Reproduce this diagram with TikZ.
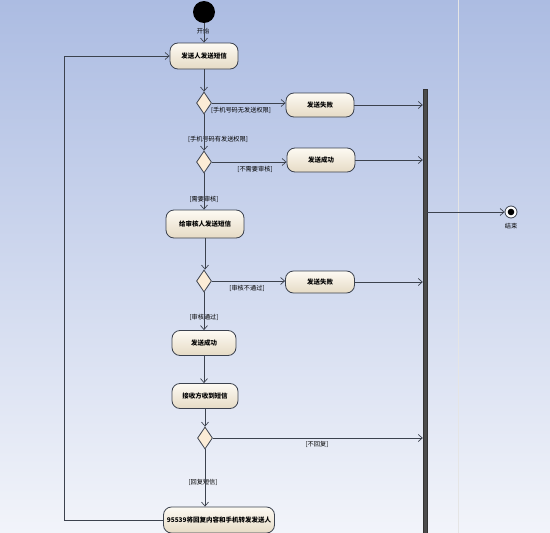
\documentclass[tikz,border=0pt]{standalone}
\usepackage{fontspec}
\newfontfamily\cjk{Noto Sans CJK SC}
\usetikzlibrary{shapes.geometric,arrows.meta}
\definecolor{bgtop}{RGB}{172,188,226}
\definecolor{bgbot}{RGB}{242,244,250}
\definecolor{acttop}{RGB}{253,250,243}
\definecolor{actbot}{RGB}{230,219,197}
\definecolor{decfill}{RGB}{252,236,214}
\definecolor{edge}{RGB}{60,66,78}

\begin{document}
\begin{tikzpicture}[x=1pt,y=-1pt,
  act/.style = {draw=edge,line width=0.8pt,rounded corners=8pt,top color=acttop,bottom color=actbot,
    minimum height=26pt,inner xsep=4pt,font=\cjk\bfseries\fontsize{6.5}{7}\selectfont},
  dec/.style = {draw=edge,line width=0.8pt,diamond,fill=decfill,inner sep=0pt,minimum width=15pt,minimum height=22pt},
  lbl/.style = {inner sep=1pt,text=black,font=\cjk\fontsize{6.2}{7}\selectfont},
  flow/.style = {draw=edge,line width=0.7pt,-{Straight Barb[length=4pt,width=7pt]}}]
% background and lane divider
\shade[top color=bgtop,bottom color=bgbot] (0,0) rectangle (550,533);
\useasboundingbox (0,0) rectangle (550,533);
\draw[white!80!gray,line width=1pt] (458,0) -- (458,533);

\node[circle,fill=black,minimum size=22pt,inner sep=0pt] (start) at (204,12) {};
\node[lbl] (startl) at (203,31) {开始};
\node[act,minimum width=68pt] (a1) at (204,56) {发送人发送短信};
\node[dec] (d1) at (204,103) {};
\node[act,minimum width=68pt,minimum height=24pt] (f1) at (320,105) {发送失败};
\node[dec] (d2) at (204,162) {};
\node[act,minimum width=68pt,minimum height=24pt] (s1) at (321,160) {发送成功};
\node[act,minimum width=78pt,minimum height=28pt] (a2) at (205,224) {给审核人发送短信};
\node[dec] (d3) at (204,281) {};
\node[act,minimum width=69pt,minimum height=22pt] (f2) at (320,282) {发送失败};
\node[act,minimum width=64pt,minimum height=25pt] (s2) at (204,343) {发送成功};
\node[act,minimum width=66pt,minimum height=25pt] (a3) at (205,396) {接收方收到短信};
\node[dec] (d4) at (205,438) {};
\node[act,minimum width=111pt,inner xsep=1pt] (a4) at (219,520) {95539将回复内容和手机转发发送人};
\node[draw=black!80,fill=black!70,minimum width=4pt,minimum height=446pt,inner sep=0pt] (bar) at (425,312) {};
\node[circle,draw=edge,fill=white,line width=0.8pt,minimum size=12pt,inner sep=0pt] (end) at (511,212) {};
\fill (end) circle (3.3pt);
\node[lbl] (endl) at (511,226) {结束};

% guards
\node[lbl] at (241,110) {[手机号码无发送权限]};
\node[lbl] at (218,139) {[手机号码有发送权限]};
\node[lbl] at (255,169) {[不需要审核]};
\node[lbl] at (204,199) {[需要审核]};
\node[lbl] at (247,288) {[审核不通过]};
\node[lbl] at (204,317) {[审核通过]};
\node[lbl] at (317,444) {[不回复]};
\node[lbl] at (203,482) {[回复短信]};

\draw[flow] (start) -- (a1);
\draw[flow] (a1) -- (d1);
\draw[flow] (d1) -- (d1 -| f1.west);
\draw[flow] (f1) -- (f1 -| bar.west);
\draw[flow] (d1) -- (d2);
\draw[flow] (d2) -- (d2 -| s1.west);
\draw[flow] (s1) -- (s1 -| bar.west);
\draw[flow] (d2) -- (d2 |- a2.north);
\draw[flow] (a2) -- (a2 |- d3.north);
\draw[flow] (d3) -- (d3 -| f2.west);
\draw[flow] (f2) -- (f2 -| bar.west);
\draw[flow] (d3) -- (d3 |- s2.north);
\draw[flow] (s2) -- (s2 |- a3.north);
\draw[flow] (a3) -- (d4);
\draw[flow] (d4) -- (d4 -| bar.west);
\draw[flow] (d4) -- (d4 |- a4.north);
\draw[flow] (a4.west) -- ++(-99,0) |- (a1.west);
\draw[flow] (bar.east |- end) -- (end);
\end{tikzpicture}
\end{document}
